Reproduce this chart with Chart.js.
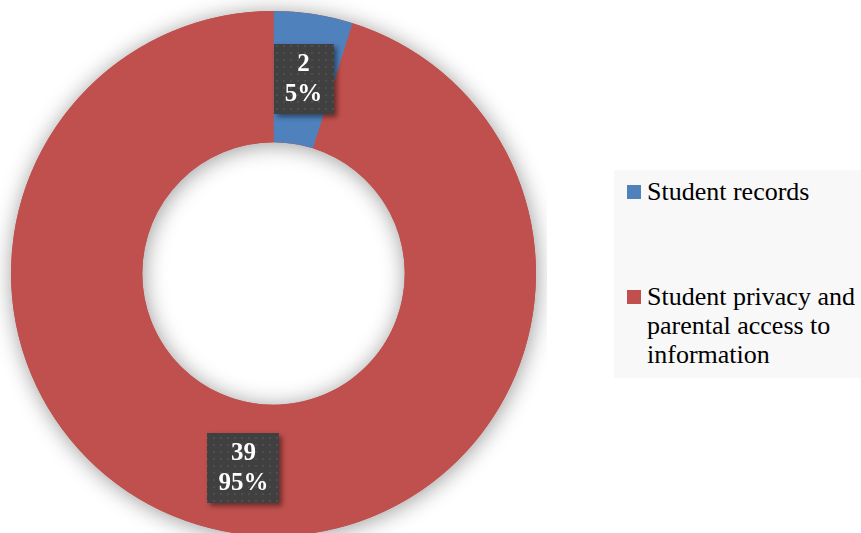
<!DOCTYPE html>
<html>
<head>
<meta charset="utf-8">
<script src="https://cdn.jsdelivr.net/npm/chart.js@4/dist/chart.umd.min.js"></script>
<style>
  html, body { margin: 0; padding: 0; background: #fff; overflow: hidden; width: 861px; height: 533px; }
  #wrap { position: absolute; left: 0; top: 0; width: 547px; height: 547px; }
  #legend {
    position: absolute; left: 614px; top: 170px; width: 247px; height: 208px;
    background: #f8f8f8; font-family: "Liberation Serif", "Times New Roman", serif;
    font-size: 26px; line-height: 29px; color: #000;
  }
  .item { position: absolute; left: 13px; width: 234px; padding-left: 20px; box-sizing: border-box; }
  .sw { position: absolute; left: 0; top: 8px; width: 14px; height: 14px; }
</style>
</head>
<body>
<div id="wrap"><canvas id="chart"></canvas></div>
<div id="legend"></div>
<script>
var labels = ['Student records', 'Student privacy and parental access to information'];
var values = [2, 39];
var colors = ['#4f81bd', '#c0504d'];
var legendTops = [7, 112];

// legend box on the right
var leg = document.getElementById('legend');
for (var i = 0; i < labels.length; i++) {
  var it = document.createElement('div');
  it.className = 'item';
  it.style.top = legendTops[i] + 'px';
  it.innerHTML = '<span class="sw" style="background:' + colors[i] + '"></span>' + labels[i];
  leg.appendChild(it);
}

// dotted fill for the value boxes
function makePattern(ctx) {
  var p = document.createElement('canvas');
  p.width = 7; p.height = 7;
  var pc = p.getContext('2d');
  pc.fillStyle = '#404040';
  pc.fillRect(0, 0, 7, 7);
  pc.fillStyle = '#4e4e4e';
  pc.fillRect(3, 3, 2, 2);
  return ctx.createPattern(p, 'repeat');
}

// soft shadow behind the whole ring
var ringShadow = {
  id: 'ringShadow',
  beforeDatasetsDraw: function(chart) {
    var a = chart.getDatasetMeta(0).data[0];
    if (!a) return;
    var ctx = chart.ctx;
    ctx.save();
    ctx.shadowColor = 'rgba(0,0,0,0.4)';
    ctx.shadowBlur = 22;
    ctx.shadowOffsetX = 1;
    ctx.shadowOffsetY = 2;
    ctx.fillStyle = '#c0504d';
    ctx.beginPath();
    ctx.arc(a.x, a.y, a.outerRadius, 0, Math.PI * 2, false);
    ctx.arc(a.x, a.y, a.innerRadius, 0, Math.PI * 2, true);
    ctx.closePath();
    ctx.fill();
    ctx.restore();
  }
};

// value + percent boxes in the middle of each segment
var valueBoxes = {
  id: 'valueBoxes',
  afterDatasetsDraw: function(chart) {
    var ctx = chart.ctx;
    var data = chart.data.datasets[0].data;
    var total = data.reduce(function(s, v) { return s + v; }, 0);
    var pat = makePattern(ctx);
    ctx.save();
    ctx.font = 'bold 25px "Liberation Serif", "Times New Roman", serif';
    ctx.textAlign = 'center';
    ctx.textBaseline = 'middle';
    chart.getDatasetMeta(0).data.forEach(function(arc, i) {
      var c = arc.getCenterPoint();
      var lines = [String(data[i]), Math.round(data[i] / total * 100) + '%'];
      var w = 0;
      lines.forEach(function(t) { w = Math.max(w, ctx.measureText(t).width); });
      var lh = 30;
      var bw = Math.round(w + 22), bh = lines.length * lh + 10;
      var x0 = Math.round(c.x - bw / 2), y0 = Math.round(c.y - bh / 2);
      ctx.save();
      ctx.shadowColor = 'rgba(0,0,0,0.45)';
      ctx.shadowBlur = 5;
      ctx.shadowOffsetX = 3;
      ctx.shadowOffsetY = 3;
      ctx.fillStyle = '#404040';
      ctx.fillRect(x0, y0, bw, bh);
      ctx.restore();
      ctx.fillStyle = pat;
      ctx.fillRect(x0, y0, bw, bh);
      ctx.fillStyle = '#ffffff';
      lines.forEach(function(t, k) {
        ctx.fillText(t, c.x, y0 + 5 + lh * k + lh / 2 + 1);
      });
    });
    ctx.restore();
  }
};

new Chart(document.getElementById('chart'), {
  type: 'doughnut',
  data: {
    labels: labels,
    datasets: [{
      data: values,
      backgroundColor: colors,
      borderWidth: 0
    }]
  },
  options: {
    responsive: true,
    maintainAspectRatio: false,
    animation: false,
    cutout: '50%',
    layout: { padding: { left: 11, top: 11, right: 11, bottom: 11 } },
    plugins: {
      legend: { display: false },
      tooltip: { enabled: false }
    }
  },
  plugins: [ringShadow, valueBoxes]
});
</script>
</body>
</html>
